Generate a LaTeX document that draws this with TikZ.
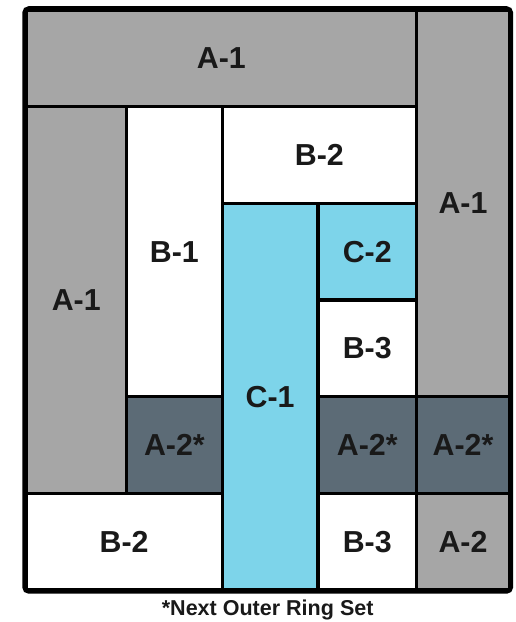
\documentclass[tikz,border=0pt]{standalone}
\usepackage{fontspec}
\setmainfont{Liberation Sans}
\definecolor{ringgray}{HTML}{A6A6A6}
\definecolor{ringslate}{HTML}{5C6B76}
\definecolor{ringblue}{HTML}{7DD4EA}
\tikzset{
  patch/.style n args={2}{draw, line width=1.5pt, inner sep=0pt,
    minimum width=#1*1.5cm, minimum height=#2*1.5cm,
    font=\fontsize{13.4}{16}\selectfont\bfseries, text=black!90},
}
\begin{document}
\begin{tikzpicture}[x=1.5cm, y=1.5cm]
\useasboundingbox (-0.269,-0.331) rectangle (5.067,6.103);
% outer ring A
\node[patch={4.04}{1}, fill=ringgray] (a1top) at (2.02,5.5) {A-1};
\node[patch={1.04}{4}, fill=ringgray] (a1left) at (0.52,3) {A-1};
\node[patch={0.96}{4}, fill=ringgray] (a1right) at (4.52,4) {A-1};
\node[patch={0.96}{1}, fill=ringgray] (a2) at (4.52,0.5) {A-2};
% next ring set
\node[patch={0.99}{1}, fill=ringslate] (a2left) at (1.535,1.5) {A-2*};
\node[patch={1.02}{1}, fill=ringslate] (a2mid) at (3.53,1.5) {A-2*};
\node[patch={0.96}{1}, fill=ringslate] (a2right) at (4.52,1.5) {A-2*};
% ring B
\node[patch={0.99}{3}, fill=white] (b1) at (1.535,3.5) {B-1};
\node[patch={2.01}{1}, fill=white] (b2top) at (3.035,4.5) {B-2};
\node[patch={2.03}{1}, fill=white] (b2bot) at (1.015,0.5) {B-2};
\node[patch={1.02}{1}, fill=white] (b3up) at (3.53,2.5) {B-3};
\node[patch={1.02}{1}, fill=white] (b3bot) at (3.53,0.5) {B-3};
% centre C
\node[patch={0.99}{4}, fill=ringblue] (c1) at (2.525,2) {C-1};
\node[patch={1.02}{1}, fill=ringblue] (c2) at (3.53,3.5) {C-2};
% frame
\draw[line width=1.8pt, rounded corners=2pt] (a1left.west |- b2bot.south) rectangle (a1right.east |- a1top.north);
\node[font=\fontsize{9.5}{11}\selectfont\bfseries, text=black!90] (note) at (2.5,-0.207) {*Next Outer Ring Set};
\end{tikzpicture}
\end{document}
